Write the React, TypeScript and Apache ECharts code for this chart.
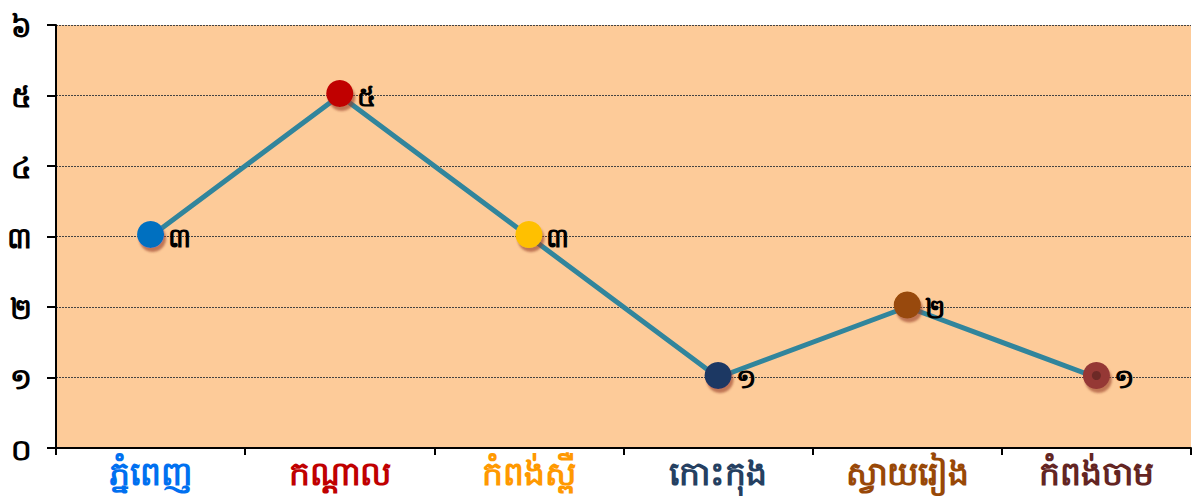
import React, { useEffect, useRef } from "react";
import * as echarts from "echarts";

const categories = ["ភ្នំពេញ", "កណ្ដាល", "កំពង់ស្ពឺ", "កោះកុង", "ស្វាយរៀង", "កំពង់ចាម"];
const values = [3, 5, 3, 1, 2, 1];
const pointColors = ["#0070C0", "#C00000", "#FFC000", "#1F3864", "#984807", "#953735"];
const labelColors = ["#0070F0", "#C00000", "#FF9900", "#254061", "#984807", "#632523"];
const khmerDigits = ["០", "១", "២", "៣", "៤", "៥", "៦"];
const innerDot = [null, null, null, null, null, 1];

export default function App() {
  const ref = useRef<HTMLDivElement>(null);
  useEffect(() => {
    const chart = echarts.init(ref.current!, undefined, { renderer: "svg" });
    const font = "'Noto Sans', 'DejaVu Sans', sans-serif";
    chart.setOption({
      animation: false,
      grid: { left: 56, right: 3, top: 25, bottom: 56, backgroundColor: "#FDCB99", show: true, borderWidth: 0 },
      xAxis: {
        type: "category",
        data: categories,
        boundaryGap: true,
        axisLine: { lineStyle: { color: "#000", width: 2 } },
        axisTick: { show: true, length: 7, lineStyle: { color: "#000", width: 2 } },
        axisLabel: {
          fontFamily: font,
          fontSize: 33,
          fontWeight: "bold",
          margin: 8,
          color: (_v: string, i: number) => labelColors[i],
        },
      },
      yAxis: {
        type: "value",
        min: 0,
        max: 6,
        interval: 1,
        axisLine: { show: true, lineStyle: { color: "#000", width: 2 } },
        axisTick: { show: true, length: 9, lineStyle: { color: "#000", width: 2 } },
        splitLine: { lineStyle: { color: "#444", width: 1, type: [2, 1] } },
        axisLabel: {
          fontFamily: font,
          fontSize: 29,
          fontWeight: "bold",
          color: "#000",
          margin: 24,
          formatter: (v: number) => khmerDigits[v],
        },
      },
      series: [
        {
          type: "line",
          data: values.map((v, i) => ({
            value: v,
            itemStyle: {
              color: pointColors[i],
              shadowColor: "rgba(150,60,40,0.6)",
              shadowOffsetX: 2,
              shadowOffsetY: 4,
              shadowBlur: 2,
            },
          })),
          lineStyle: { color: "#31859C", width: 5 },
          symbol: "circle",
          symbolSize: 27,
          symbolOffset: [0, -2],
          label: {
            show: true,
            position: "right",
            distance: 4,
            offset: [0, 2],
            fontFamily: font,
            fontSize: 27,
            fontWeight: "bold",
            color: "#000",
            formatter: (p: any) => khmerDigits[p.value],
          },
        },
        {
          type: "scatter",
          data: innerDot,
          symbol: "circle",
          symbolSize: 9,
          symbolOffset: [0, -2],
          itemStyle: { color: "#632523" },
          z: 5,
        },
      ],
    });
    return () => chart.dispose();
  }, []);
  return <div ref={ref} style={{ width: 1194, height: 504, position: "absolute", left: 0, top: 0 }} />;
}
